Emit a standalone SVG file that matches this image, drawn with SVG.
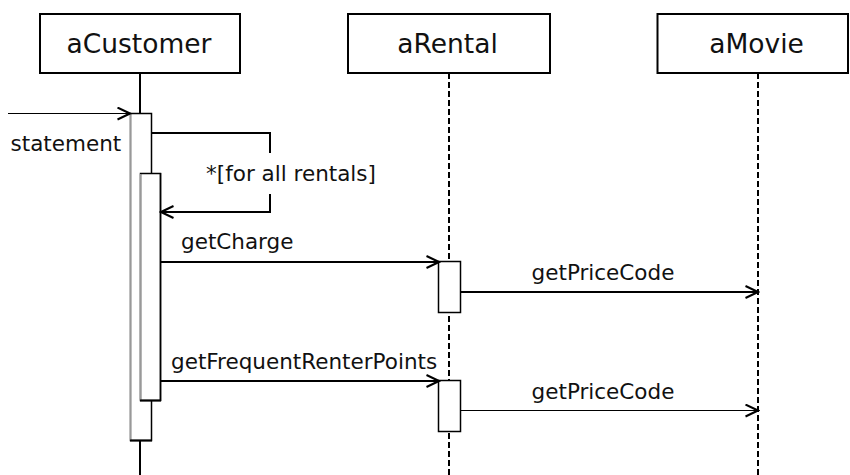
<svg xmlns="http://www.w3.org/2000/svg" width="850" height="475" viewBox="0 0 850 475">
<style>
text{font-family:"DejaVu Sans","Verdana",sans-serif;fill:#111}
.t{font-size:26.5px;text-anchor:middle}
.m{font-size:21.5px}
.box{fill:#fff;stroke:#000;stroke-width:2}
.life{stroke:#000;stroke-width:2;stroke-dasharray:6 3;fill:none}
.msg{stroke:#000;stroke-width:2;fill:none}
.act{fill:#fff;stroke:#000;stroke-width:1.5}
</style>
<defs>
<marker id="open" markerUnits="userSpaceOnUse" markerWidth="16" markerHeight="14" refX="14" refY="7" orient="auto" viewBox="0 0 16 14">
<path d="M1.5,1 L14,7 L1.5,13" fill="none" stroke="#000" stroke-width="2"/>
</marker>
</defs>
<g id="aCustomer">
<rect class="box" x="40" y="14" width="200" height="59"/>
<text class="t" x="139" y="53">aCustomer</text>
<line x1="140" y1="73" x2="140" y2="113" stroke="#000" stroke-width="2"/>
<line x1="140" y1="441" x2="140" y2="475" stroke="#000" stroke-width="2"/>
<rect class="act" x="130.5" y="113.5" width="21" height="327" stroke-width="1"/>
<line x1="130.5" y1="113" x2="130.5" y2="440" stroke="#999" stroke-width="1"/>
<line x1="130" y1="440.5" x2="152" y2="440.5" stroke="#000" stroke-width="2"/>
<rect class="act" x="140.5" y="173.5" width="20" height="227" stroke-width="1"/>
<line x1="140.5" y1="174" x2="140.5" y2="400" stroke="#999" stroke-width="1.5"/>
<line x1="160.5" y1="173" x2="160.5" y2="401" stroke="#000" stroke-width="1.5"/>
<line x1="140" y1="400.5" x2="161" y2="400.5" stroke="#000" stroke-width="2"/>
</g>
<g id="aRental">
<rect class="box" x="348" y="14" width="202" height="59"/>
<text class="t" x="447.5" y="53">aRental</text>
<line class="life" x1="449" y1="73" x2="449" y2="475"/>
<rect class="act" x="438.5" y="261.5" width="22" height="51"/>
<rect class="act" x="438.5" y="380.5" width="22" height="51"/>
</g>
<g id="aMovie">
<rect class="box" x="657.5" y="14" width="190.5" height="59"/>
<text class="t" x="756.5" y="53">aMovie</text>
<line class="life" x1="758" y1="73" x2="758" y2="475"/>
</g>
<g id="connectors">
<line x1="8" y1="113.5" x2="130" y2="113.5" stroke="#000" stroke-width="1" marker-end="url(#open)"/>
<text class="m" x="10.5" y="151">statement</text>
<polyline class="msg" points="151.5,133 270,133 270,153"/>
<polyline class="msg" points="270,194 270,212 161,212" marker-end="url(#open)"/>
<text class="m" x="291" y="181" text-anchor="middle">*[for all rentals]</text>
<line class="msg" x1="161" y1="262" x2="439" y2="262" marker-end="url(#open)"/>
<text class="m" x="181" y="249">getCharge</text>
<line class="msg" x1="460" y1="292" x2="758" y2="292" marker-end="url(#open)"/>
<text class="m" x="603" y="280" text-anchor="middle">getPriceCode</text>
<line class="msg" x1="161" y1="381" x2="439" y2="381" marker-end="url(#open)"/>
<text class="m" x="171" y="369">getFrequentRenterPoints</text>
<line x1="460" y1="410.5" x2="758" y2="410.5" stroke="#000" stroke-width="1" marker-end="url(#open)"/>
<text class="m" x="603" y="399" text-anchor="middle">getPriceCode</text>
</g>
</svg>
